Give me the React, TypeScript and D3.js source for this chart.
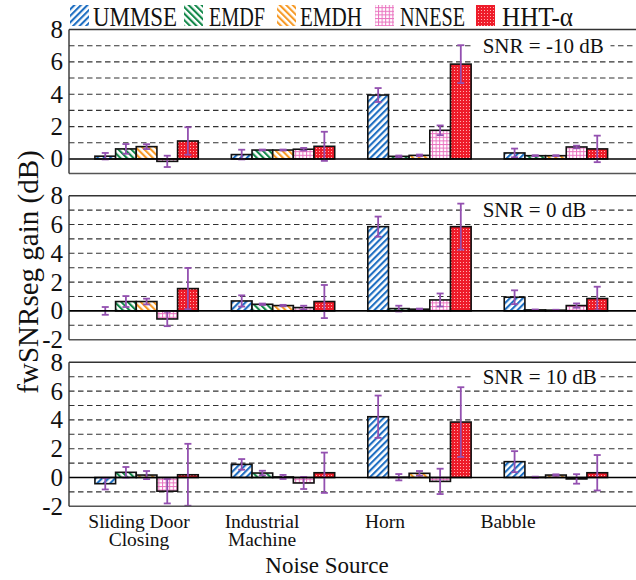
import React from "react";
import * as d3 from "d3";

// ---------- data ----------
const categories = ["Sliding Door Closing", "Industrial Machine", "Horn", "Babble"];
const categoryLines = [["Sliding Door", "Closing"], ["Industrial", "Machine"], ["Horn"], ["Babble"]];
const methods = ["UMMSE", "EMDF", "EMDH", "NNESE", "HHT-α"];
const snrLabels = ["SNR = -10 dB", "SNR = 0 dB", "SNR = 10 dB"];

// rows = noise source, columns = method (UMMSE, EMDF, EMDH, NNESE, HHT-α)
const meanSnrM10 = [
  [0.17, 0.62, 0.76, -0.15, 1.11],
  [0.27, 0.55, 0.55, 0.6, 0.78],
  [3.95, 0.16, 0.22, 1.77, 5.86],
  [0.37, 0.2, 0.2, 0.74, 0.62],
];
const errSnrM10 = [
  [0.2, 0.3, 0.15, 0.35, 0.85],
  [0.3, 0.03, 0.03, 0.08, 0.9],
  [0.43, 0.05, 0.05, 0.3, 1.17],
  [0.27, 0.03, 0.03, 0.08, 0.82],
];
const meanSnr0 = [
  [0.0, 0.65, 0.65, -0.56, 1.55],
  [0.69, 0.46, 0.37, 0.23, 0.65],
  [5.85, 0.16, 0.12, 0.76, 5.85],
  [0.95, 0.07, 0.05, 0.37, 0.86],
];
const errSnr0 = [
  [0.27, 0.38, 0.2, 0.5, 1.43],
  [0.39, 0.05, 0.05, 0.13, 1.15],
  [0.7, 0.2, 0.04, 0.45, 1.6],
  [0.48, 0.03, 0.03, 0.15, 0.82],
];
const meanSnr10 = [
  [-0.43, 0.36, 0.17, -0.95, 0.19],
  [0.91, 0.31, 0.04, -0.38, 0.33],
  [4.22, 0.02, 0.29, -0.27, 3.85],
  [1.1, 0.02, 0.17, -0.1, 0.33],
];
const errSnr10 = [
  [0.4, 0.37, 0.28, 0.85, 2.15],
  [0.37, 0.16, 0.14, 0.42, 1.4],
  [1.47, 0.22, 0.16, 0.88, 2.42],
  [0.73, 0.04, 0.05, 0.33, 1.23],
];
const panelMeans = [meanSnrM10, meanSnr0, meanSnr10];
const panelErrs = [errSnrM10, errSnr0, errSnr10];
const panelDomains: [number, number][] = [[-0.9, 8], [-2, 8], [-2, 8]];
const panelTicks = [[0, 2, 4, 6, 8], [-2, 0, 2, 4, 6, 8], [-2, 0, 2, 4, 6, 8]];

// ---------- layout ----------
const W = 636;
const H = 580;
const left = 69;
const right = 640;
const panelTops = [29.5, 195.7, 362.3];
const panelH = 144;
const FONT = "'Liberation Serif', 'Times New Roman', serif";
const patternIds = ["pUMMSE", "pEMDF", "pEMDH", "pNNESE", "pHHT"];
const legendX = [70, 184, 277, 375, 476];
const legendTextX = [93, 209, 300, 400, 502];
const legendTextW = [84, 56, 62, 65, 71];
const errColor = "#9350b0";

const xGroup = d3.scaleBand<string>().domain(categories).range([left, 633.5]).paddingInner(0.2427).paddingOuter(0.19);
const xSub = d3.scaleBand<string>().domain(methods).range([0, xGroup.bandwidth()]);
const xLabel = d3.scalePoint<string>().domain(categories).range([139, 508]);

function Patterns() {
  return (
    <defs>
      <pattern id="pUMMSE" patternUnits="userSpaceOnUse" width={4.6} height={4.6} patternTransform="rotate(45)">
        <rect width={4.6} height={4.6} fill="#fff" />
        <rect width={2.1} height={4.6} fill="#1f6fc2" />
      </pattern>
      <pattern id="pEMDF" patternUnits="userSpaceOnUse" width={4.6} height={4.6} patternTransform="rotate(-45)">
        <rect width={4.6} height={4.6} fill="#fff" />
        <rect width={2.1} height={4.6} fill="#13884a" />
      </pattern>
      <pattern id="pEMDH" patternUnits="userSpaceOnUse" width={4.6} height={4.6} patternTransform="rotate(-45)">
        <rect width={4.6} height={4.6} fill="#fff" />
        <rect width={2.1} height={4.6} fill="#f79a26" />
      </pattern>
      <pattern id="pNNESE" patternUnits="userSpaceOnUse" width={3.6} height={3.6}>
        <rect width={3.6} height={3.6} fill="#fff" />
        <rect width={1} height={3.6} fill="#ea72bf" />
        <rect width={3.6} height={1} fill="#ea72bf" />
      </pattern>
      <pattern id="pHHT" patternUnits="userSpaceOnUse" width={3} height={3}>
        <rect width={3} height={3} fill="#ee1c2a" />
        <rect x={1} y={1} width={1} height={1} fill="#ffb0b0" />
      </pattern>
    </defs>
  );
}

function Panel({ idx }: { idx: number }) {
  const top = panelTops[idx];
  const [d0, d1] = panelDomains[idx];
  const y = d3.scaleLinear().domain([d0, d1]).range([top + panelH, top]);
  const grid = d3.range(Math.ceil(d0), Math.floor(d1) + 1).filter((v) => v !== 0 && v > d0 && v < d1);
  const means = panelMeans[idx];
  const errs = panelErrs[idx];
  const label = snrLabels[idx];
  const labelY = y(7);
  const labelX = 482.7;
  const labelW = label.length * 9.9;
  return (
    <g>
      {grid.map((g) => (
        <line key={g} x1={left} x2={right} y1={y(g)} y2={y(g)} stroke="#333" strokeWidth={1.1} strokeDasharray="5.5,3.5" />
      ))}
      <rect x={labelX - 9} y={labelY - 12} width={labelW + 18} height={24} fill="#fff" />
      <text x={labelX} y={labelY} dy="0.35em" fontFamily={FONT} fontSize={21} fill="#111">
        {label}
      </text>
      {categories.map((c, ci) =>
        methods.map((m, mi) => {
          const v = means[ci][mi];
          const e = errs[ci][mi];
          const x0 = (xGroup(c) as number) + (xSub(m) as number);
          const bw = xSub.bandwidth();
          const yTop = y(Math.max(0, v));
          const yBot = y(Math.min(0, v));
          const cx = x0 + bw / 2;
          return (
            <g key={c + m}>
              <rect x={x0} y={yTop} width={bw} height={Math.max(0, yBot - yTop)} fill={`url(#${patternIds[mi]})`} stroke="#111" strokeWidth={1.6} />
              <line x1={cx} x2={cx} y1={y(v + e)} y2={y(v - e)} stroke={errColor} strokeWidth={1.8} />
              <line x1={cx - 3.5} x2={cx + 3.5} y1={y(v + e)} y2={y(v + e)} stroke={errColor} strokeWidth={1.8} />
              <line x1={cx - 3.5} x2={cx + 3.5} y1={y(v - e)} y2={y(v - e)} stroke={errColor} strokeWidth={1.8} />
            </g>
          );
        })
      )}
      <line x1={left} x2={right} y1={y(0)} y2={y(0)} stroke="#000" strokeWidth={1.6} />
      <line x1={left} x2={right} y1={top} y2={top} stroke="#333" strokeWidth={1.4} />
      <line x1={left} x2={right} y1={top + panelH} y2={top + panelH} stroke="#555" strokeWidth={1.4} />
      <line x1={left} x2={left} y1={top} y2={top + panelH} stroke="#333" strokeWidth={1.4} />
      {panelTicks[idx].map((t) => (
        <text key={t} x={63} y={y(t)} dy="0.34em" textAnchor="end" fontFamily={FONT} fontSize={25} fill="#111">
          {t}
        </text>
      ))}
    </g>
  );
}

export default function App() {
  return (
    <svg width={W} height={H} style={{ position: "absolute", left: 0, top: 0, background: "#fff" }}>
      <Patterns />
      <rect width={W} height={H} fill="#fff" />
      {[0, 1, 2].map((i) => (
        <Panel key={i} idx={i} />
      ))}
      {methods.map((m, i) => (
        <g key={m}>
          <rect x={legendX[i]} y={5} width={19} height={21} fill={`url(#${patternIds[i]})`} />
          <text
            x={legendTextX[i]}
            y={26}
            fontFamily={FONT}
            fontSize={27}
            fill="#111"
            textLength={legendTextW[i]}
            lengthAdjust="spacingAndGlyphs"
          >
            {m}
          </text>
        </g>
      ))}
      {categories.map((c, ci) =>
        categoryLines[ci].map((ln, li) => (
          <text key={c + li} x={xLabel(c) as number} y={528 + li * 18} textAnchor="middle" fontFamily={FONT} fontSize={19.5} fill="#111">
            {ln}
          </text>
        ))
      )}
      <text x={327} y={573} textAnchor="middle" fontFamily={FONT} fontSize={23} fill="#111">
        Noise Source
      </text>
      <text transform="translate(38,272) rotate(-90)" textAnchor="middle" fontFamily={FONT} fontSize={29} fill="#111">
        fwSNRseg gain (dB)
      </text>
    </svg>
  );
}
